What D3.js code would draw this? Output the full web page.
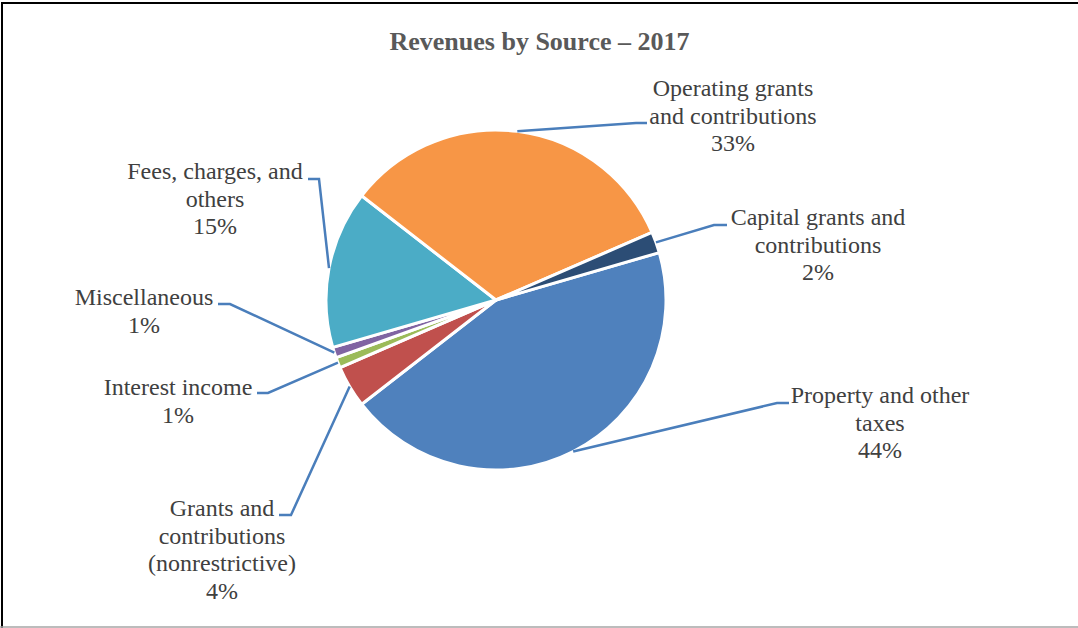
<!DOCTYPE html>
<html>
<head>
<meta charset="utf-8">
<script src="https://cdn.jsdelivr.net/npm/d3@7"></script>
<style>
  body { margin: 0; background: #fff; }
  svg { display: block; }
</style>
</head>
<body>
<div id="chart"></div>
<script>
// data, clockwise from the capital/property boundary
var categories = ["Property and other taxes", "Grants and contributions (nonrestrictive)", "Interest income",
                  "Miscellaneous", "Fees, charges, and others", "Operating grants and contributions",
                  "Capital grants and contributions"];
var shares = [44, 4, 1, 1, 15, 33, 2];
var pctLabels = ["44%", "4%", "1%", "1%", "15%", "33%", "2%"];
var colors = ["#4F81BD", "#C0504D", "#9BBB59", "#8064A2", "#4BACC6", "#F79646", "#2C4D75"];
// how each label's name wraps (like Excel did)
var wrapped = [
    ["Property and other", "taxes"],
    ["Grants and", "contributions", "(nonrestrictive)"],
    ["Interest income"],
    ["Miscellaneous"],
    ["Fees, charges, and", "others"],
    ["Operating grants", "and contributions"],
    ["Capital grants and", "contributions"]
];

var w = 1078, h = 628;
var cx = 496, cy = 300, r = 170;
var startDeg = 73.8;
var lineH = 27.5;

// label layout: elbow point, tail end x, text centre x, first baseline
var spots = [
    {ex: 777, ey: 403, tx: 789, lx: 880, ly: 403},
    {ex: 291, ey: 515, tx: 279, lx: 222, ly: 516},
    {ex: 268, ey: 393, tx: 257, lx: 178, ly: 395},
    {ex: 230, ey: 304, tx: 218, lx: 144, ly: 305},
    {ex: 319, ey: 179, tx: 308, lx: 215, ly: 179},
    {ex: 636, ey: 123, tx: 647, lx: 733, ly: 96},
    {ex: 714, ey: 225, tx: 727, lx: 818, ly: 225}
];

var svg = d3.select("#chart").append("svg")
    .attr("width", w)
    .attr("height", h);

svg.append("rect").attr("width", w).attr("height", h).attr("fill", "#fff");

// frame
svg.append("line").attr("x1", 1).attr("x2", w).attr("y1", 3).attr("y2", 3)
    .attr("stroke", "#000").attr("stroke-width", 2);
svg.append("line").attr("x1", 2).attr("x2", 2).attr("y1", 2).attr("y2", h)
    .attr("stroke", "#000").attr("stroke-width", 2);
svg.append("line").attr("x1", 0).attr("x2", w).attr("y1", 627).attr("y2", 627)
    .attr("stroke", "#a6a6a6").attr("stroke-width", 1.5);

svg.append("text")
    .attr("x", 539.5).attr("y", 50)
    .attr("text-anchor", "middle")
    .attr("font-family", "'Liberation Serif', 'Times New Roman', serif")
    .attr("font-weight", "bold")
    .attr("font-size", 26)
    .attr("fill", "#595959")
    .text("Revenues by Source \u2013 2017");

var rows = categories.map(function(c, i) { return {name: c, value: shares[i], idx: i}; });

var start = startDeg * Math.PI / 180;
var pie = d3.pie().sort(null).value(function(d) { return d.value; })
    .startAngle(start).endAngle(start + 2 * Math.PI);
var arc = d3.arc().innerRadius(0).outerRadius(r);

var g = svg.append("g").attr("transform", "translate(" + cx + "," + cy + ")");
var arcs = pie(rows);

g.selectAll("path.slice")
    .data(arcs)
    .enter()
    .append("path")
    .attr("class", "slice")
    .attr("d", arc)
    .attr("fill", function(d) { return colors[d.data.idx]; })
    .attr("stroke", "#fff")
    .attr("stroke-width", 3)
    .attr("stroke-linejoin", "round");

// leader lines
svg.selectAll("polyline.leader")
    .data(arcs)
    .enter()
    .append("polyline")
    .attr("class", "leader")
    .attr("points", function(d) {
        var s = spots[d.data.idx];
        var mid = (d.startAngle + d.endAngle) / 2;
        var px = cx + r * Math.sin(mid), py = cy - r * Math.cos(mid);
        return [[px, py], [s.ex, s.ey], [s.tx, s.ey]].map(function(p) { return p.join(","); }).join(" ");
    })
    .attr("fill", "none")
    .attr("stroke", "#4A7EBB")
    .attr("stroke-width", 2.5);

// labels
var labels = svg.selectAll("text.lbl")
    .data(arcs)
    .enter()
    .append("text")
    .attr("class", "lbl")
    .attr("text-anchor", "middle")
    .attr("font-family", "'Liberation Serif', 'Times New Roman', serif")
    .attr("font-size", 24)
    .attr("fill", "#404040");

labels.each(function(d) {
    var s = spots[d.data.idx];
    var lines = wrapped[d.data.idx].concat([pctLabels[d.data.idx]]);
    var t = d3.select(this);
    lines.forEach(function(l, k) {
        t.append("tspan").attr("x", s.lx).attr("y", s.ly + k * lineH).text(l);
    });
});
</script>
</body>
</html>
